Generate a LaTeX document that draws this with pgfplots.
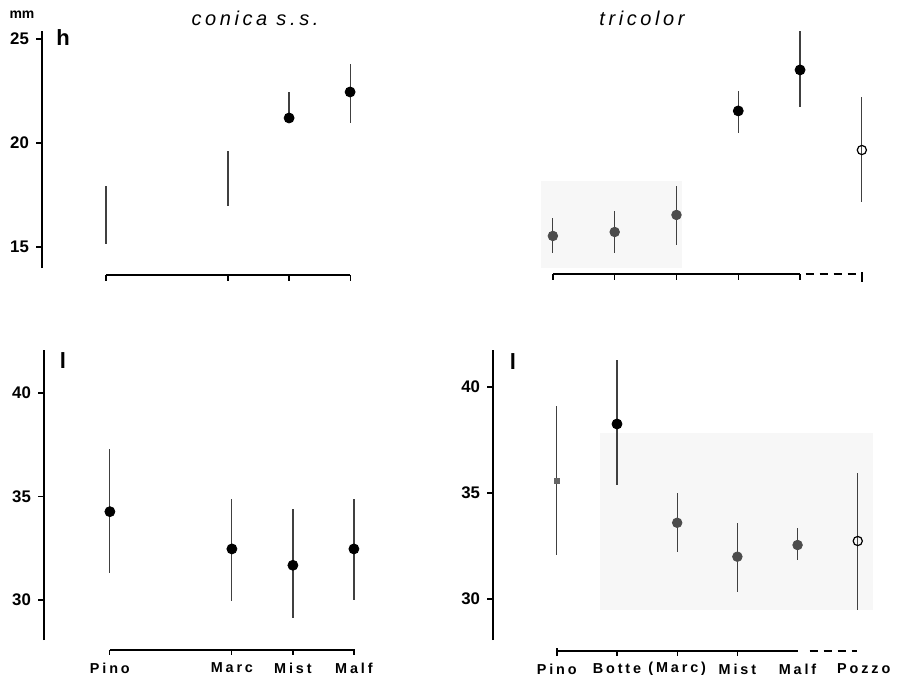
\documentclass[border=0pt]{standalone}
\usepackage{fontspec}
\setmainfont{Liberation Sans}
\newfontfamily\titlefont[LetterSpace=18]{Liberation Sans}
\newfontfamily\labfont[LetterSpace=20]{Liberation Sans}
\usepackage{pgfplots}
\pgfplotsset{compat=1.18}

\pgfplotsset{
  panel/.style={scale only axis, clip=false, anchor=south west,
    axis x line=none, axis y line*=left, xtick=\empty,
    y axis line style={line width=1pt},
    tick align=outside, major tick length=3pt,
    tick style={black, line width=0.8pt},
    yticklabel style={font=\fontsize{8.4}{10}\selectfont\bfseries},
    /pgf/number format/assume math mode=true},
  ebar/.style={only marks, error bars/y dir=both, error bars/y explicit,
    error bars/error mark=none, error bars/error bar style={line width=0.6pt, black!75}},
  nodot/.style={mark=*, mark size=0.01pt, mark options={opacity=0}},
  dot/.style={mark=*, mark size=2.5pt, mark options={fill=black, draw=black}},
  greydot/.style={mark=*, mark size=2.4pt, mark options={fill=black!70, draw=black!70}},
  opendot/.style={mark=o, mark size=2.3pt, mark options={fill=white, draw=black, line width=0.6pt}},
}
\tikzset{catlab/.style={font=\labfont\fontsize{7.2}{9}\selectfont\bfseries, yshift=-9pt}}

\begin{document}
\begin{tikzpicture}
\path (0,0) rectangle (450.5pt,339.5pt);

% h, conica s.s.
\begin{axis}[panel, at={(21pt,205.5pt)}, width=163.2pt, height=118.6pt,
  xmin=-1.05, xmax=4.3, ymin=14, ymax=25.4, ytick={15,20,25}]
\addplot[ebar, nodot] coordinates {(0,16.55) +=(0,1.4) -=(0,1.4) (2,18.3) +=(0,1.33) -=(0,1.32)};
\addplot[ebar, dot] coordinates {(3,21.21) +=(0,1.25) -=(0,0.2) (4,22.46) +=(0,1.35) -=(0,1.49)};
\draw[line width=0.9pt] (axis cs:0,13.66) -- (axis cs:4,13.66);
\draw[line width=0.6pt] (axis cs:0,13.66) -- ++(0pt,-3pt);
\draw[line width=0.6pt] (axis cs:2,13.66) -- ++(0pt,-3pt);
\draw[line width=0.6pt] (axis cs:3,13.66) -- ++(0pt,-3pt);
\draw[line width=0.6pt] (axis cs:4,13.66) -- ++(0pt,-3pt);
\end{axis}

% h, tricolor
\begin{axis}[panel, at={(244pt,205.5pt)}, width=196.2pt, height=118.6pt,
  xmin=-1.05, xmax=5.3, ymin=14, ymax=25.4, axis y line=none, ytick=\empty]
\fill[black!3] (axis cs:-0.19,14) rectangle (axis cs:2.09,18.18);
\addplot[ebar, greydot] coordinates {(0,15.54) +=(0,0.86) -=(0,0.82) (1,15.73) +=(0,1.01) -=(0,1.01) (2,16.55) +=(0,1.39) -=(0,1.44)};
\addplot[ebar, dot] coordinates {(3,21.55) +=(0,0.96) -=(0,1.06) (4,23.52) +=(0,1.87) -=(0,1.78)};
\addplot[ebar, opendot] coordinates {(5,19.67) +=(0,2.55) -=(0,2.5)};
\draw[line width=1pt] (axis cs:0,13.71) -- (axis cs:4,13.71);
\draw[line width=1pt, dash pattern=on 4pt off 3pt] (axis cs:4.09,13.71) -- (axis cs:4.92,13.71);
\draw[line width=0.7pt] (axis cs:0,13.71) -- ++(0pt,-3pt);
\draw[line width=0.7pt] (axis cs:1,13.71) -- ++(0pt,-3pt);
\draw[line width=0.7pt] (axis cs:2,13.71) -- ++(0pt,-3pt);
\draw[line width=0.7pt] (axis cs:3,13.71) -- ++(0pt,-3pt);
\draw[line width=0.7pt] (axis cs:4,13.71) -- ++(0pt,-3pt);
\draw[line width=1.2pt] (axis cs:5,13.71) ++(0pt,1pt) -- ++(0pt,-5pt);
\end{axis}

% l, conica s.s.
\begin{axis}[panel, at={(22pt,19.5pt)}, width=164.1pt, height=145pt,
  xmin=-1.08, xmax=4.3, ymin=28.07, ymax=42.08, ytick={30,35,40}]
\addplot[ebar, dot] coordinates {(0,34.27) +=(0,3.03) -=(0,2.98) (2,32.47) +=(0,2.4) -=(0,2.5) (3,31.68) +=(0,2.72) -=(0,2.56) (4,32.47) +=(0,2.4) -=(0,2.47)};
\draw[line width=0.9pt] (axis cs:0,27.59) -- (axis cs:4.02,27.59);
\draw[line width=0.6pt] (axis cs:0,27.59) -- ++(0pt,-2.5pt);
\draw[line width=0.6pt] (axis cs:2,27.59) -- ++(0pt,-2.5pt);
\draw[line width=0.6pt] (axis cs:3,27.59) -- ++(0pt,-2.5pt);
\draw[line width=0.6pt] (axis cs:4,27.59) -- ++(0pt,-2.5pt);
\node[catlab] at (axis cs:0,27.59) {Pino};
\node[catlab] at (axis cs:2,27.59) {Marc};
\node[catlab] at (axis cs:3,27.59) {Mist};
\node[catlab] at (axis cs:4,27.59) {Malf};
\end{axis}

% l, tricolor
\begin{axis}[panel, at={(246.5pt,19.5pt)}, width=191.4pt, height=145pt,
  xmin=-1.06, xmax=5.3, ymin=28.07, ymax=41.75, ytick={30,35,40}]
\fill[black!3] (axis cs:0.71,29.48) rectangle (axis cs:5.25,37.83);
\addplot[ebar, mark=square*, mark size=1.4pt, mark options={fill=black!60, draw=black!60}] coordinates {(0,35.58) +=(0,3.53) -=(0,3.5)};
\addplot[ebar, dot] coordinates {(1,38.26) +=(0,3.02) -=(0,2.88)};
\addplot[ebar, greydot] coordinates {(2,33.6) +=(0,1.39) -=(0,1.36) (3,32.0) +=(0,1.6) -=(0,1.65) (4,32.55) +=(0,0.82) -=(0,0.71)};
\addplot[ebar, opendot] coordinates {(5,32.74) +=(0,3.19) -=(0,3.25)};
\draw[line width=0.9pt] (axis cs:0,27.55) -- (axis cs:4,27.55);
\draw[line width=1pt, dash pattern=on 4pt off 3pt] (axis cs:4.2,27.55) -- (axis cs:4.98,27.55);
\draw[line width=0.7pt] (axis cs:0,27.55) ++(0pt,1.5pt) -- ++(0pt,-4pt);
\draw[line width=0.6pt] (axis cs:1,27.55) -- ++(0pt,-2.5pt);
\draw[line width=0.6pt] (axis cs:2,27.55) -- ++(0pt,-2.5pt);
\draw[line width=0.6pt] (axis cs:3,27.55) -- ++(0pt,-2.5pt);
\node[catlab] at (axis cs:0,27.55) {Pino};
\node[catlab] at (axis cs:1,27.55) {Botte};
\node[catlab] at (axis cs:2,27.55) {(Marc)};
\node[catlab] at (axis cs:3,27.55) {Mist};
\node[catlab] at (axis cs:4,27.55) {Malf};
\node[catlab] at (axis cs:5.1,27.55) {Pozzo};
\end{axis}

\node[font=\fontsize{7}{8}\selectfont\bfseries] at (11pt,332pt) {mm};
\node[font=\fontsize{11}{12}\selectfont\bfseries] at (31.5pt,320.5pt) {h};
\node[font=\fontsize{11}{12}\selectfont\bfseries] at (31.5pt,159pt) {l};
\node[font=\fontsize{11}{12}\selectfont\bfseries] at (256.5pt,158.5pt) {l};
\node[font=\titlefont\itshape\fontsize{10}{12}\selectfont] at (127.5pt,330.5pt) {conica s.s.};
\node[font=\titlefont\itshape\fontsize{10}{12}\selectfont] at (321pt,330.5pt) {tricolor};
\end{tikzpicture}
\end{document}
